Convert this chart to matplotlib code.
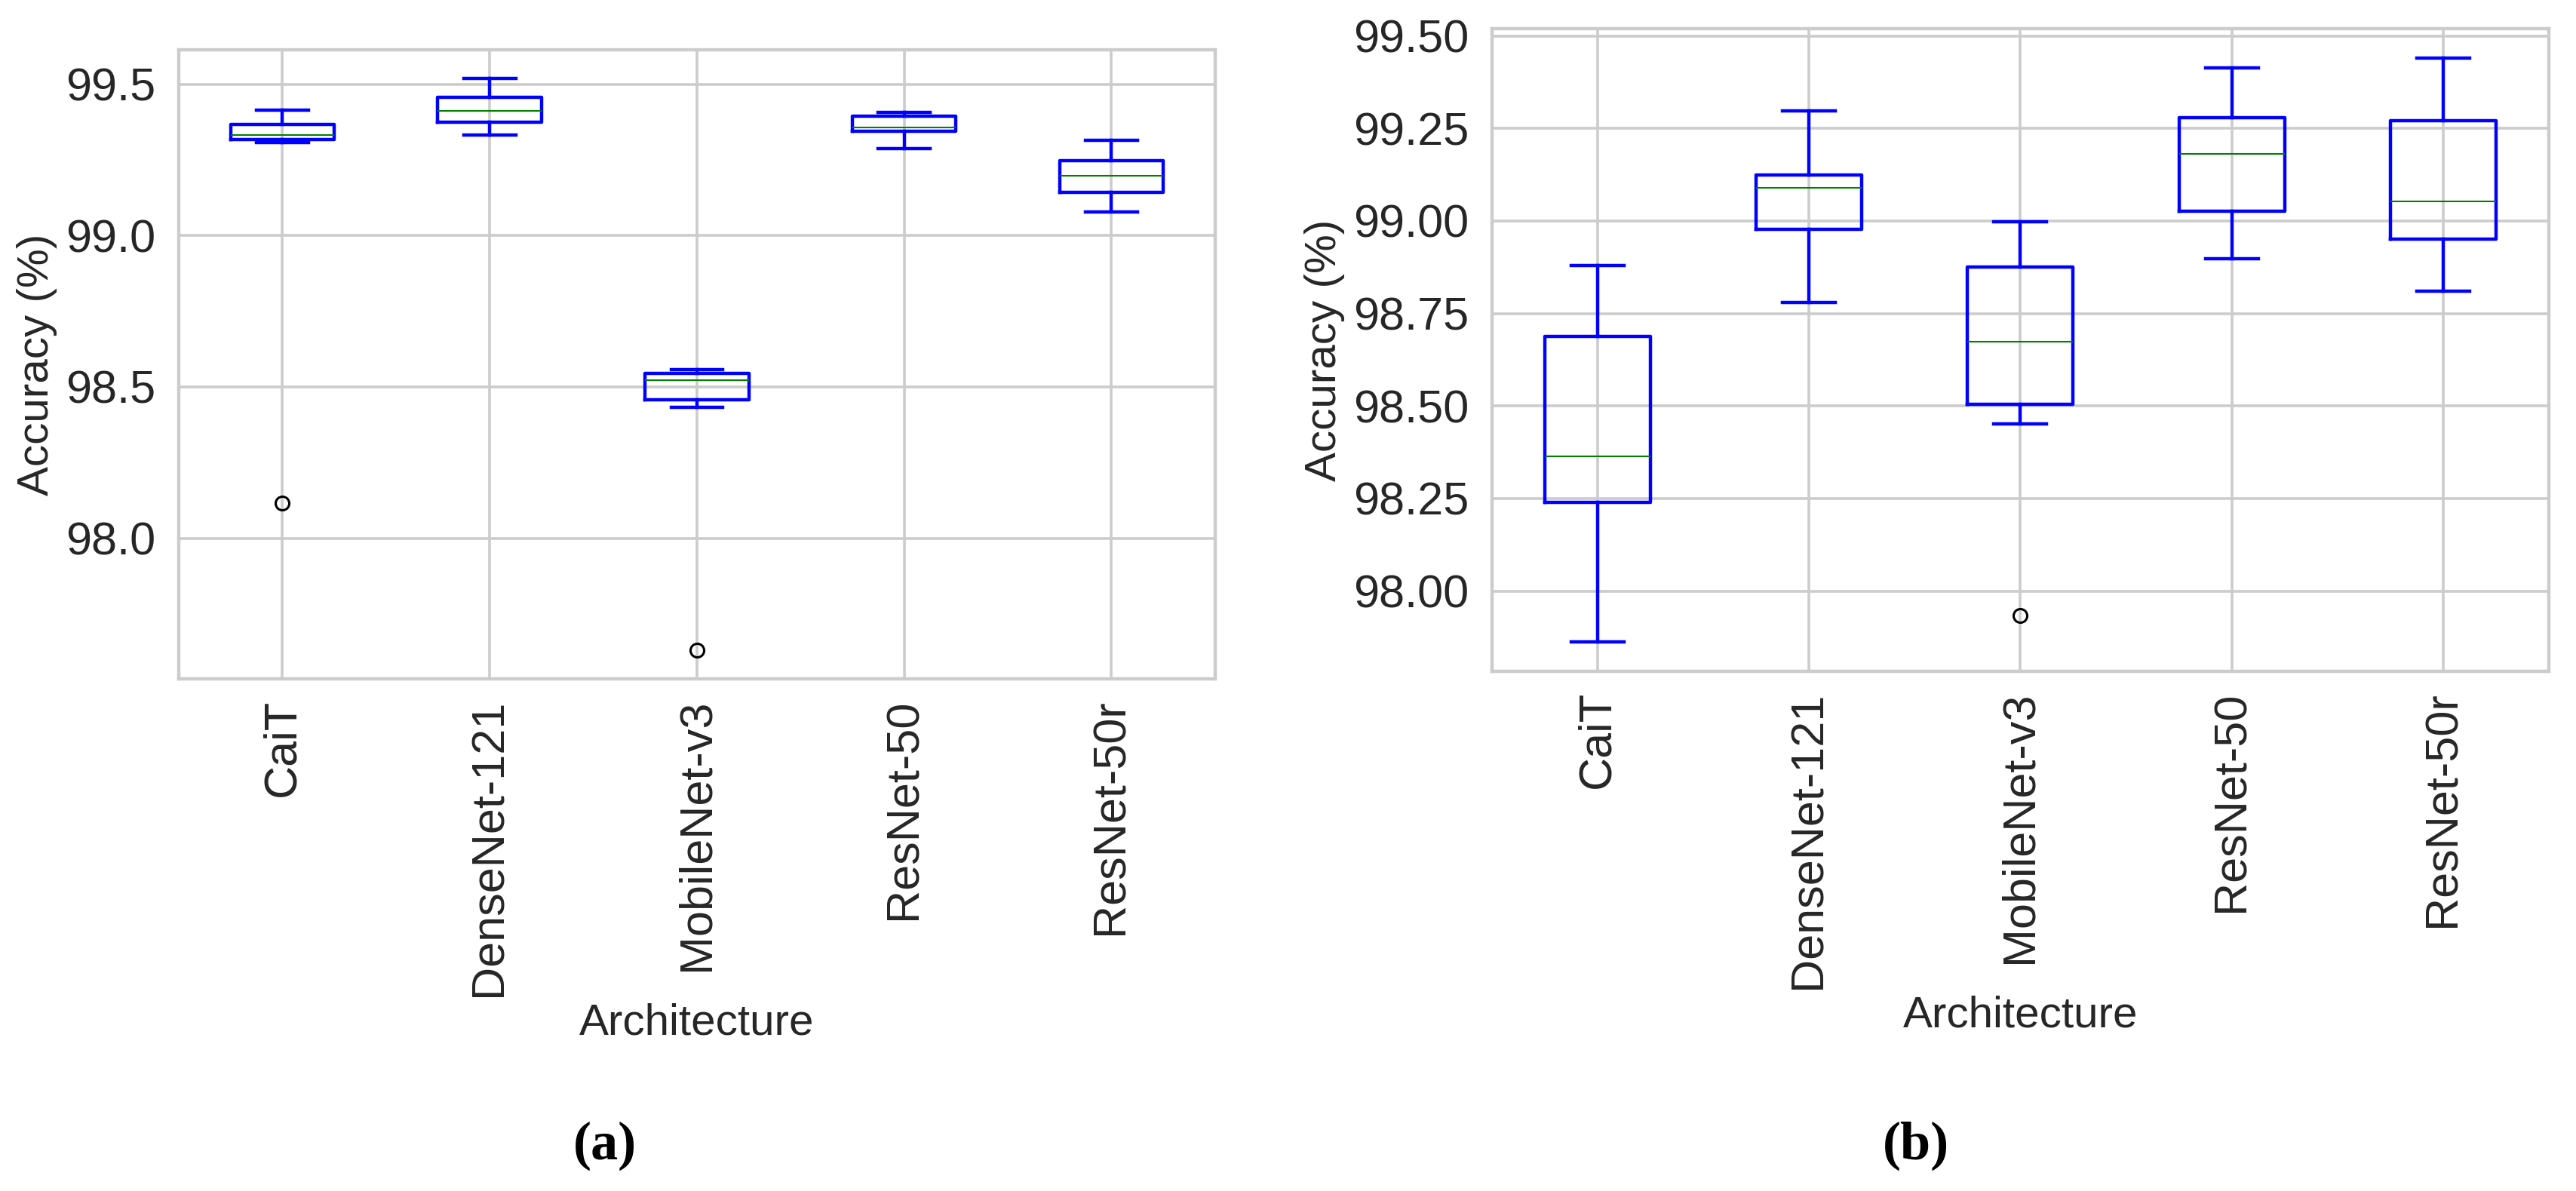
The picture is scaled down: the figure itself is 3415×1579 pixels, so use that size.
import matplotlib
matplotlib.use("Agg")
import matplotlib.pyplot as plt

# Architectures compared in both panels
labels = ['CaiT', 'DenseNet-121', 'MobileNet-v3', 'ResNet-50', 'ResNet-50r']

# Panel (a) box statistics (accuracy, %)
a_whishi = [99.413, 99.519, 98.558, 99.406, 99.314]
a_q3 = [99.366, 99.456, 98.544, 99.395, 99.248]
a_med = [99.333, 99.412, 98.522, 99.357, 99.197]
a_q1 = [99.317, 99.374, 98.458, 99.344, 99.142]
a_whislo = [99.308, 99.331, 98.432, 99.287, 99.079]
a_fliers = [[98.115], [], [97.630], [], []]
a_yticks = [98.0, 98.5, 99.0, 99.5]

# Panel (b) box statistics (accuracy, %)
b_whishi = [98.879, 99.298, 98.998, 99.413, 99.441]
b_q3 = [98.689, 99.124, 98.876, 99.279, 99.272]
b_med = [98.364, 99.089, 98.674, 99.182, 99.053]
b_q1 = [98.239, 98.978, 98.505, 99.027, 98.951]
b_whislo = [97.862, 98.779, 98.452, 98.899, 98.810]
b_fliers = [[], [], [97.934], [], []]
b_yticks = [98.00, 98.25, 98.50, 98.75, 99.00, 99.25, 99.50]

plt.rcParams['font.family'] = ['Liberation Sans', 'DejaVu Sans']
TXT = '#262626'
GRID = '#cccccc'


def make_stats(whislo, q1, med, q3, whishi, fliers):
    stats = []
    for i in range(len(labels)):
        stats.append(dict(label=labels[i], whislo=whislo[i], q1=q1[i], med=med[i],
                          q3=q3[i], whishi=whishi[i], fliers=fliers[i]))
    return stats


def draw(ax, stats, yticks, fmt):
    ax.set_axisbelow(True)
    ax.grid(True, color=GRID, linewidth=2.6)
    ax.bxp(stats, widths=0.5,
           boxprops=dict(color='blue', linewidth=3.2),
           whiskerprops=dict(color='blue', linewidth=3.2),
           capprops=dict(color='blue', linewidth=3.2),
           medianprops=dict(color='green', linewidth=1.5),
           flierprops=dict(marker='o', markerfacecolor='none', markeredgecolor='black',
                           markersize=13, markeredgewidth=2.2))
    ax.set_xlim(0.5, 5.5)
    ax.set_yticks(yticks)
    ax.set_yticklabels([fmt.format(v) for v in yticks])
    ax.set_xticks(range(1, len(labels) + 1))
    ax.set_xticklabels(labels, rotation=90)
    ax.tick_params(axis='both', length=0, labelsize=44, labelcolor=TXT)
    ax.tick_params(axis='x', pad=19)
    ax.tick_params(axis='y', pad=22)
    for s in ax.spines.values():
        s.set_color(GRID)
        s.set_linewidth(3.2)
    ax.set_xlabel('Architecture', fontsize=42, color=TXT, labelpad=6)
    ax.set_ylabel('Accuracy (%)', fontsize=42, color=TXT, labelpad=8)


fig = plt.figure(figsize=(34.15, 15.79), dpi=100)
ax1 = fig.add_axes([0.0694, 0.430, 0.4023, 0.5282])
ax2 = fig.add_axes([0.5792, 0.4364, 0.4102, 0.5396])

draw(ax1, make_stats(a_whislo, a_q1, a_med, a_q3, a_whishi, a_fliers), a_yticks, '{:.1f}')
draw(ax2, make_stats(b_whislo, b_q1, b_med, b_q3, b_whishi, b_fliers), b_yticks, '{:.2f}')

# Sub-figure captions
fig.text(802 / 3415, 1 - 1519 / 1579, '(a)', ha='center', va='center', fontsize=52,
         fontweight='bold', family=['Liberation Serif', 'DejaVu Serif'], color='black')
fig.text(2540 / 3415, 1 - 1519 / 1579, '(b)', ha='center', va='center', fontsize=52,
         fontweight='bold', family=['Liberation Serif', 'DejaVu Serif'], color='black')

fig.savefig('out.png', dpi=100, facecolor='white')
